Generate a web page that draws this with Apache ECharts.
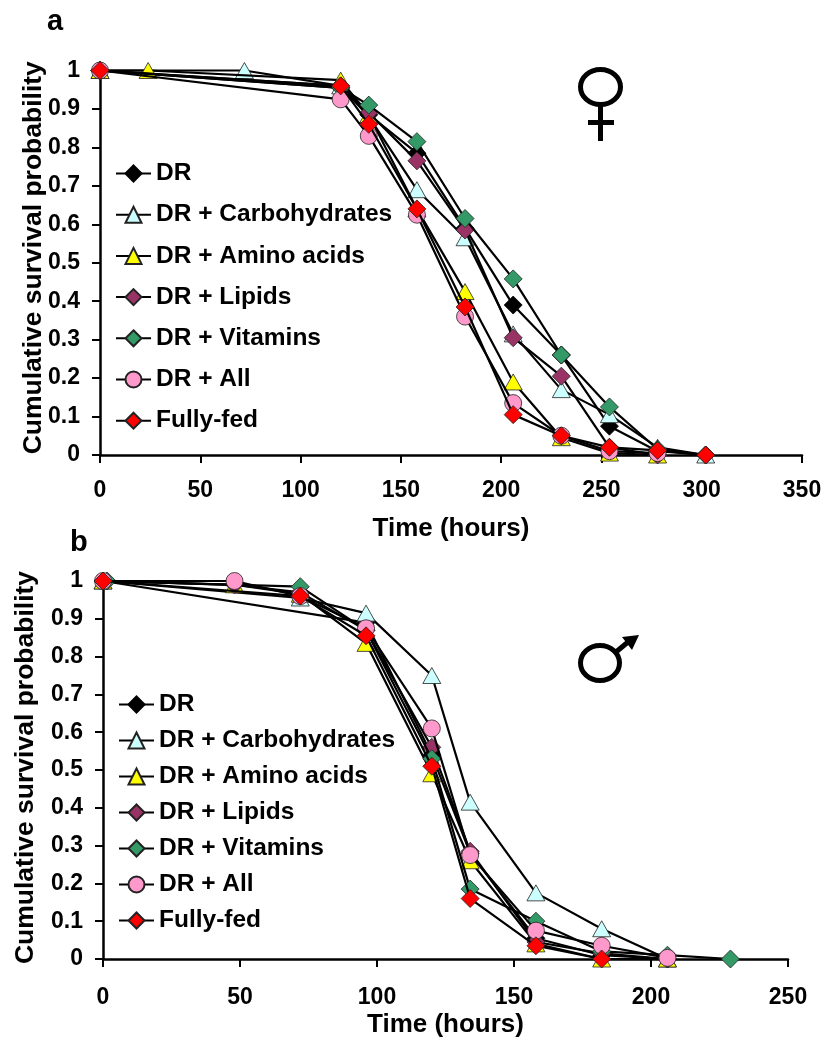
<!DOCTYPE html>
<html>
<head>
<meta charset="utf-8">
<style>html,body{margin:0;padding:0;background:#fff}#c{width:826px;height:1037px}</style>
<script src="https://cdn.jsdelivr.net/npm/echarts@6/dist/echarts.min.js"></script>
</head>
<body>
<div id="c"></div>
<script>
const names = ['DR','DR + Carbohydrates','DR + Amino acids','DR + Lipids','DR + Vitamins','DR + All','Fully-fed'];
const colors = ['#000000','#CCFFFF','#FFFF00','#993366','#339966','#FF99CC','#FF0000'];
const symbols = ['diamond','triangle','triangle','diamond','diamond','circle','diamond'];
const xTicksLabel = 'Time (hours)';
const yLabel = 'Cumulative survival probability';

const timesA = [0,24,72,120,134,158,182,206,230,254,278,302];
const a_dr    = [1,null,null,0.955,0.885,0.785,0.59,0.39,0.26,0.075,0.01,0];
const a_carb  = [1,null,1,0.96,0.88,0.69,0.565,0.315,0.17,0.105,0.02,0];
const a_amino = [1,1,null,0.975,0.885,0.64,0.425,0.19,0.045,0.005,0,null];
const a_lipid = [1,null,null,0.96,0.89,0.765,0.585,0.305,0.205,0.02,0,null];
const a_vit   = [1,null,null,0.955,0.91,0.815,0.615,0.458,0.26,0.125,0.015,0];
const a_all   = [1,null,null,0.925,0.83,0.625,0.36,0.135,0.05,0.01,0.005,null];
const a_fed   = [1,null,null,0.96,0.86,0.64,0.385,0.105,0.05,0.02,0.012,0];

const timesB = [0,1.5,48,72,96,120,134,158,182,206,229];
const b_dr    = [1,null,null,null,0.89,0.54,0.28,0.055,0.01,0,null];
const b_carb  = [1,null,null,0.955,0.915,0.75,0.415,0.175,0.08,0,null];
const b_amino = [1,null,0.99,0.965,0.835,0.49,0.26,0.04,0,0,null];
const b_lipid = [1,null,0.99,0.97,0.87,0.56,0.285,0.045,0.015,0,null];
const b_vit   = [null,1,null,0.985,0.87,0.53,0.185,0.1,0.02,0.01,0];
const b_all   = [1,null,1,0.96,0.875,0.61,0.275,0.075,0.035,0.003,null];
const b_fed   = [1,null,null,0.96,0.855,0.51,0.16,0.035,0,null,null];

const seriesA = [a_dr,a_carb,a_amino,a_lipid,a_vit,a_all,a_fed];
const seriesB = [b_dr,b_carb,b_amino,b_lipid,b_vit,b_all,b_fed];

const FONT = '"Liberation Sans", Arial, sans-serif';
const lab = {fontFamily:FONT,fontWeight:'bold',fontSize:23,color:'#000'};
const axisLine = {show:true,onZero:false,lineStyle:{color:'#000',width:2.5}};
const axisTick = {show:true,length:8,inside:false,lineStyle:{color:'#000',width:2}};

function makeSeries(times, vals, idx){
  return vals.map((v,i)=>({
    type:'line', name:names[i], xAxisIndex:idx, yAxisIndex:idx,
    data: times.map((t,k)=>v[k]===null?null:[t,v[k]]).filter(d=>d),
    symbol:symbols[i],
    symbolSize: symbols[i]==='triangle'?[18,16]:(symbols[i]==='circle'?17:[18,18]),
    clip:false, animation:false, showAllSymbol:true,
    lineStyle:{color:'#000',width:2.2},
    itemStyle:{color:colors[i],borderColor:i===0?'#000':'#222',borderWidth:0.8},
    emphasis:{disabled:true}, z:2+i
  }));
}
function xAxis(idx,max,interval,labelMargin,nameGap){
  return {type:'value',gridIndex:idx,min:0,max:max,interval:interval,
    name:xTicksLabel,nameLocation:'center',nameGap:nameGap,
    nameTextStyle:Object.assign({},lab,{fontSize:26}),
    axisLine:axisLine,axisTick:axisTick,axisLabel:Object.assign({margin:labelMargin,hideOverlap:false},lab),splitLine:{show:false}};
}
function yAxis(idx,nameGap,shift){
  return {type:'value',gridIndex:idx,min:0,max:1,interval:0.1,
    name:yLabel,nameLocation:'center',nameGap:nameGap,nameMoveOverlap:false,
    nameTextStyle:Object.assign({},lab,{fontSize:26.5,padding:[0,0,0,shift]}),
    axisLine:axisLine,axisTick:axisTick,
    axisLabel:Object.assign({margin:20,formatter:v=>String(+v.toFixed(1))},lab),splitLine:{show:false}};
}
function legend(left,top,gap){
  return {show:true,orient:'vertical',left:left,top:top,itemWidth:35,itemHeight:20,itemGap:gap,
    selectedMode:false,data:names,padding:0,
    textStyle:Object.assign({},lab,{fontSize:24.5})};
}
const chart = echarts.init(document.getElementById('c'),null,{renderer:'canvas'});
chart.setOption({
  backgroundColor:'#fff',animation:false,
  grid:[
    {left:100,top:70.5,width:702,height:384.5,containLabel:false,outerBoundsMode:'none'},
    {left:103,top:581,width:685,height:378,containLabel:false,outerBoundsMode:'none'}
  ],
  xAxis:[xAxis(0,350,50,24,61),xAxis(1,250,50,27,53)],
  yAxis:[yAxis(0,53,10),yAxis(1,64,5)],
  legend:[legend(115,161,16.2),legend(118,692,11)],
  title:[
    {text:'a',left:47,top:7,padding:0,textStyle:{fontFamily:FONT,fontWeight:'bold',fontSize:29,color:'#000'}},
    {text:'b',left:70,top:528,padding:0,textStyle:{fontFamily:FONT,fontWeight:'bold',fontSize:29,color:'#000'}}
  ],
  series:[...makeSeries(timesA,seriesA,0),...makeSeries(timesB,seriesB,1)],
  graphic:[
    {type:'ellipse',shape:{cx:600.5,cy:87,rx:20,ry:17.5},style:{fill:null,stroke:'#000',lineWidth:5}},
    {type:'line',shape:{x1:600.5,y1:105,x2:600.5,y2:141},style:{stroke:'#000',lineWidth:5}},
    {type:'line',shape:{x1:588,y1:122.5,x2:614,y2:122.5},style:{stroke:'#000',lineWidth:5}},
    {type:'ellipse',shape:{cx:600,cy:663,rx:19.5,ry:17.5},style:{fill:null,stroke:'#000',lineWidth:5}},
    {type:'line',shape:{x1:616,y1:652,x2:628,y2:642},style:{stroke:'#000',lineWidth:5}},
    {type:'polygon',shape:{points:[[639,635],[622,637],[632,650]]},style:{fill:'#000'}}
  ]
});
</script>
</body>
</html>
